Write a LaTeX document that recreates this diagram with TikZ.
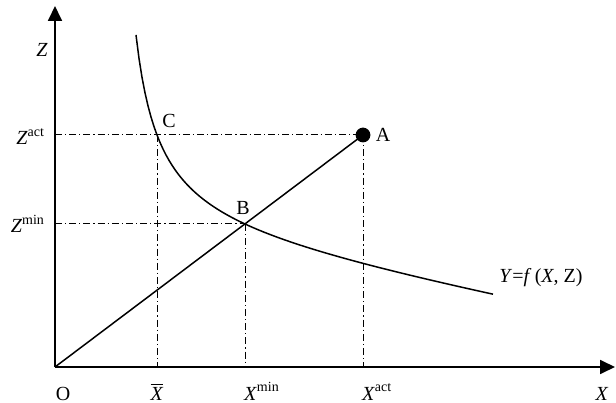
\documentclass[tikz,border=0pt]{standalone}
\usepackage{fontspec}
\setmainfont{Liberation Serif}
\usetikzlibrary{arrows.meta, positioning, calc}
\newcommand{\upidx}[1]{\raisebox{0.42em}{\fontsize{7}{8}\selectfont #1}}

\begin{document}
\begin{tikzpicture}[x=0.5pt, y=0.5pt, font=\fontsize{10}{12}\selectfont,
    axis/.style={line width=0.9pt, -{Triangle[length=7.5pt,width=7pt]}},
    guide/.style={line width=0.5pt, dash pattern=on 3.5pt off 1.5pt on 0.6pt off 1.5pt},
    curve/.style={line width=0.75pt}]
    \useasboundingbox (-55,-35) rectangle (561,367);
    % Axes
    \coordinate (O) at (0,0);
    \coordinate (Ztop) at (0,361);
    \coordinate (Xend) at (560,0);
    \draw[axis] (O) -- (Ztop);
    \draw[axis] (O) -- (Xend);

    % Points A, B, C
    \coordinate (A) at (308,232);
    \coordinate (B) at ($(O)!0.617!(A)$);
    \coordinate (C) at (102,232);

    % Dash-dot guides
    \draw[guide] (O |- A) -- (A);
    \draw[guide] (O |- B) -- (B);
    \draw[guide] (C) -- (C |- O);
    \draw[guide] (B) -- (B |- O);
    \draw[guide] (A) -- (A |- O);

    % Ray O-A and the curve Y=f(X,Z)
    \draw[curve] (O) -- (A);
    % Z = k/(X-57) + 141.1 - 0.1855 X, through C and B
    \draw[curve] plot[domain=81:438, samples=120] (\x, {4943/(\x-57) + 141.1 - 0.1855*\x});
    \fill (A) circle (3.7pt);

    % Labels
    \node (zlab) at (-13,317) {\textit{Z}};
    \node[anchor=base east] (zact) at ($(O |- A)+(-4,-10)$) {\textit{Z}\upidx{act}};
    \node[anchor=base east] (zmin) at ($(O |- B)+(-4,-9)$) {\textit{Z}\upidx{min}};
    \node (clab) at (114,246) {C};
    \node (blab) at (188,159) {B};
    \node (alab) at (328,232) {A};
    \node (flab) at (486,89) {\textit{Y}=\textit{f}\,(\textit{X}, Z)};
    \node[anchor=base] (olab) at (8,-33) {O};
    \node[anchor=base] (xbar) at ($(C |- O)+(0,-33)$) {$\overline{\mbox{\textit{X}}}$};
    \node[anchor=base west] (xmin) at ($(B |- O)+(-8,-33)$) {\textit{X}\upidx{min}};
    \node[anchor=base west] (xact) at ($(A |- O)+(-8,-33)$) {\textit{X}\upidx{act}};
    \node[anchor=base] (xlab) at (547,-33) {\textit{X}};
\end{tikzpicture}
\end{document}
